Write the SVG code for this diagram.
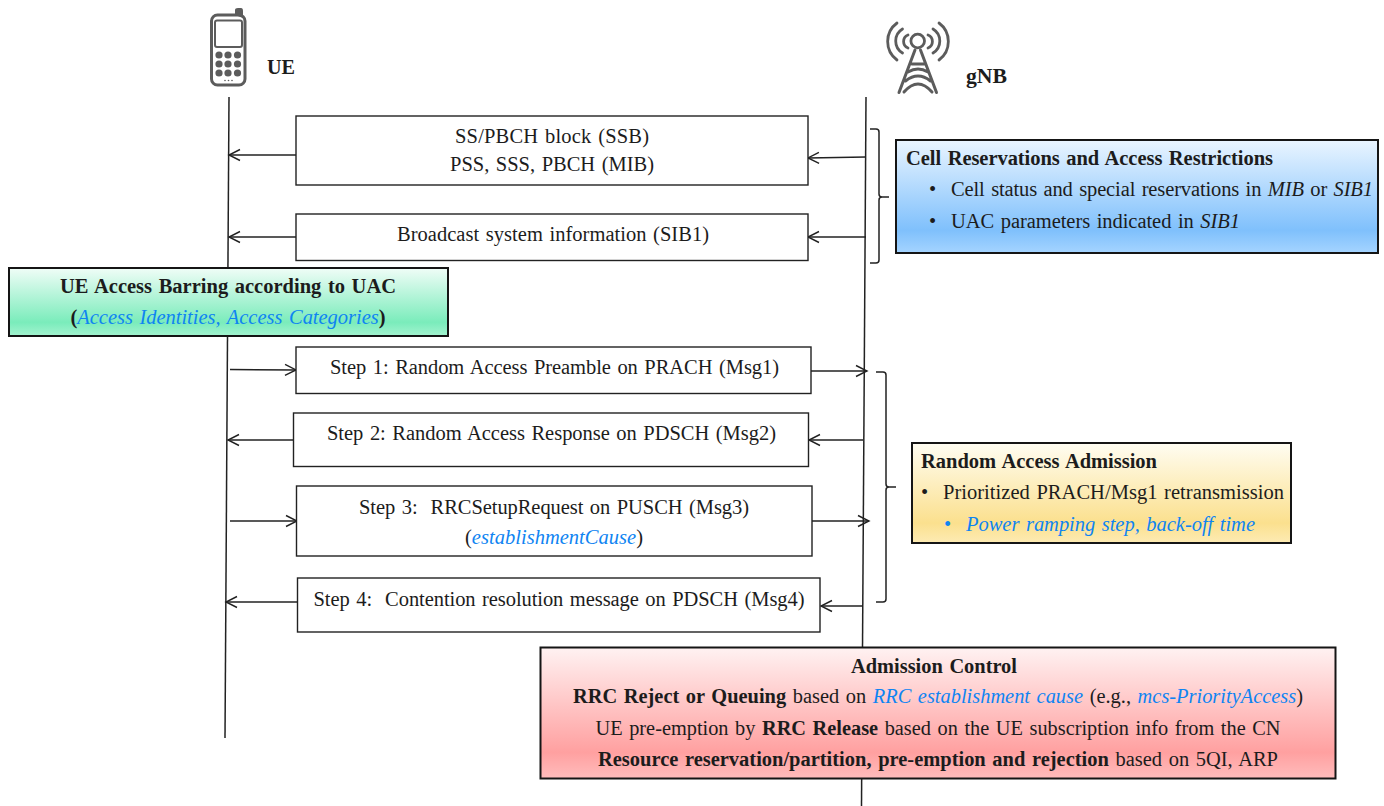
<svg xmlns="http://www.w3.org/2000/svg" width="1384" height="806" viewBox="0 0 1384 806">
<style>
text{font-family:"Liberation Serif","Times New Roman",serif;font-size:20.5px;word-spacing:1.5px;fill:#1c1c1c}
.b{font-weight:bold}
.i{font-style:italic}
.c{fill:#0f84f2}
.msg{fill:#fff;stroke:#222;stroke-width:1.4}
.panel{stroke:#151515;stroke-width:2}
.l{fill:none;stroke:#222;stroke-width:1.5}
.a{fill:none;stroke:#222;stroke-width:1.4;marker-end:url(#arr)}
.ic{fill:none;stroke:#5c5c5c;stroke-linecap:round}
.icf{fill:#5c5c5c}
</style>
<defs>
<marker id="arr" markerUnits="userSpaceOnUse" markerWidth="14" markerHeight="14" refX="12" refY="7" orient="auto"><path d="M1 1.500L12 7L1 12.500" fill="none" stroke="#222" stroke-width="1.4"/></marker>
<linearGradient id="gb" x1="0" y1="0" x2="0" y2="1"><stop offset="0" stop-color="#eaf5ff"/><stop offset=".8" stop-color="#7fc0fc"/><stop offset="1" stop-color="#a5d4ff"/></linearGradient>
<linearGradient id="gg" x1="0" y1="0" x2="0" y2="1"><stop offset="0" stop-color="#f0fdf7"/><stop offset=".8" stop-color="#7aecbb"/><stop offset="1" stop-color="#a4f3d0"/></linearGradient>
<linearGradient id="gy" x1="0" y1="0" x2="0" y2="1"><stop offset="0" stop-color="#fffdf2"/><stop offset=".8" stop-color="#fbe08e"/><stop offset="1" stop-color="#fdebb4"/></linearGradient>
<linearGradient id="gr" x1="0" y1="0" x2="0" y2="1"><stop offset="0" stop-color="#fff2f2"/><stop offset=".8" stop-color="#ffa0a0"/><stop offset="1" stop-color="#ffbcbc"/></linearGradient>
</defs>

<g id="connectors">
<path class="l" d="M229 97L225 738"/>
<path class="l" d="M866 97L861.500 806"/>
<path class="a" d="M296 155H229"/>
<path class="a" d="M296 237H229"/>
<path class="a" d="M866 157L808 158"/>
<path class="a" d="M866 237H808"/>
<path class="a" d="M230 369.500L296 370"/>
<path class="a" d="M811 371H867"/>
<path class="a" d="M293 440H228"/>
<path class="a" d="M863 440H809"/>
<path class="a" d="M230 521H297"/>
<path class="a" d="M812 521H869"/>
<path class="a" d="M298 602H226"/>
<path class="a" d="M863 606H821"/>
<path class="l" d="M870 129H876Q879 129 879 132V194Q879 197 882 197H889M882 197Q879 197 879 200V260Q879 263 876 263H870"/>
<path class="l" d="M876 372H883Q886 372 886 375V484Q886 487 889 487H896M889 487Q886 487 886 490V599Q886 602 883 602H876"/>
</g>

<g id="ue">
<rect class="ic" x="211.500" y="15" width="33.500" height="70" rx="6" stroke-width="3"/>
<path class="icf" d="M235 15V10Q235 8 238 8H241Q243 8 243 11V18Z"/>
<rect class="ic" x="215" y="20.500" width="27" height="26.500" rx="2" stroke-width="2"/>
<g class="icf">
<circle cx="219" cy="55" r="3.600"/><circle cx="228" cy="55" r="3.600"/><circle cx="237.500" cy="55" r="3.600"/>
<circle cx="219" cy="64" r="3.600"/><circle cx="228" cy="64" r="3.600"/><circle cx="237.500" cy="64" r="3.600"/>
<circle cx="219" cy="73" r="3.600"/><circle cx="228" cy="73" r="3.600"/><circle cx="237.500" cy="73" r="3.600"/>
<circle cx="225" cy="80.500" r=".8"/><circle cx="228.500" cy="80.500" r=".8"/><circle cx="232" cy="80.500" r=".8"/>
</g>
<text class="b" x="267" y="74" textLength="28" lengthAdjust="spacingAndGlyphs">UE</text>
</g>

<g id="gnb">
<circle class="ic" cx="917.700" cy="41" r="6.800" stroke-width="2.800"/>
<path class="ic" stroke-width="2.800" d="M908 48A7 7 0 0 1 908 35M928 35A7 7 0 0 1 928 48M902.500 53A14 14 0 0 1 902.500 29M933 29A14 14 0 0 1 933 53M897 60A23 23 0 0 1 897 23M939 23A23 23 0 0 1 939 60"/>
<path class="ic" stroke-width="3" d="M915 50L899 92.500M920.500 50L936.500 92.500M912 64H924M908 72Q918 66 928 72M905.500 81Q918 71 930.500 81M904 92Q918 76 932 92"/>
<text class="b" x="966" y="83" textLength="41" lengthAdjust="spacingAndGlyphs">gNB</text>
</g>

<g id="ssb">
<rect class="msg" x="296" y="116" width="512" height="69"/>
<text x="552" y="143" text-anchor="middle" textLength="194">SS/PBCH block (SSB)</text>
<text x="552" y="171" text-anchor="middle" textLength="204">PSS, SSS, PBCH (MIB)</text>
</g>
<g id="sib1">
<rect class="msg" x="296" y="214" width="512" height="46.500"/>
<text x="553" y="241" text-anchor="middle" textLength="312">Broadcast system information (SIB1)</text>
</g>
<g id="step1">
<rect class="msg" x="296" y="347" width="515" height="46.500"/>
<text x="554.500" y="374" text-anchor="middle" textLength="449">Step 1: Random Access Preamble on PRACH (Msg1)</text>
</g>
<g id="step2">
<rect class="msg" x="293.500" y="413" width="515" height="53.500"/>
<text x="551.500" y="440" text-anchor="middle" textLength="449">Step 2: Random Access Response on PDSCH (Msg2)</text>
</g>
<g id="step3">
<rect class="msg" x="296.500" y="486" width="515.500" height="70"/>
<text x="554" y="514" text-anchor="middle" textLength="390" xml:space="preserve">Step 3:  RRCSetupRequest on PUSCH (Msg3)</text>
<text x="554" y="544" text-anchor="middle" textLength="178">(<tspan class="i c">establishmentCause</tspan>)</text>
</g>
<g id="step4">
<rect class="msg" x="297.500" y="578" width="522.500" height="54"/>
<text x="559" y="606" text-anchor="middle" textLength="491" xml:space="preserve">Step 4:  Contention resolution message on PDSCH (Msg4)</text>
</g>

<g id="cell-reservations">
<rect class="panel" x="896" y="140" width="482" height="113" fill="url(#gb)"/>
<text class="b" x="906" y="165" textLength="367">Cell Reservations and Access Restrictions</text>
<text x="929" y="196">•</text>
<text x="951" y="196" textLength="422">Cell status and special reservations in <tspan class="i">MIB</tspan> or <tspan class="i">SIB1</tspan></text>
<text x="929" y="228">•</text>
<text x="951" y="228" textLength="289">UAC parameters indicated in <tspan class="i">SIB1</tspan></text>
</g>

<g id="uac">
<rect class="panel" x="9" y="268" width="439" height="68" fill="url(#gg)"/>
<text class="b" x="228" y="293" text-anchor="middle" textLength="336">UE Access Barring according to UAC</text>
<text x="228" y="324" text-anchor="middle" textLength="315"><tspan class="b">(</tspan><tspan class="i c">Access Identities, Access Categories</tspan><tspan class="b">)</tspan></text>
</g>

<g id="ra-admission">
<rect class="panel" x="912" y="443" width="379" height="100" fill="url(#gy)"/>
<text class="b" x="921" y="468" textLength="236">Random Access Admission</text>
<text x="921" y="499">•</text>
<text x="943" y="499" textLength="341">Prioritized PRACH/Msg1 retransmission</text>
<text class="c" x="944" y="531">•</text>
<text class="i c" x="966" y="531" textLength="289">Power ramping step, back-off time</text>
</g>

<g id="admission-control">
<rect class="panel" x="540.500" y="647.500" width="795" height="131" fill="url(#gr)"/>
<text class="b" x="934" y="673" text-anchor="middle" textLength="166" lengthAdjust="spacingAndGlyphs">Admission Control</text>
<text x="938" y="703" text-anchor="middle" textLength="730" lengthAdjust="spacingAndGlyphs"><tspan class="b">RRC Reject or Queuing</tspan> based on <tspan class="i c">RRC establishment cause</tspan> (e.g., <tspan class="i c">mcs-PriorityAccess</tspan>)</text>
<text x="938" y="735" text-anchor="middle" textLength="685" lengthAdjust="spacingAndGlyphs">UE pre-emption by <tspan class="b">RRC Release</tspan> based on the UE subscription info from the CN</text>
<text x="938" y="766" text-anchor="middle" textLength="680" lengthAdjust="spacingAndGlyphs"><tspan class="b">Resource reservation/partition, pre-emption and rejection</tspan> based on 5QI, ARP</text>
</g>
</svg>
